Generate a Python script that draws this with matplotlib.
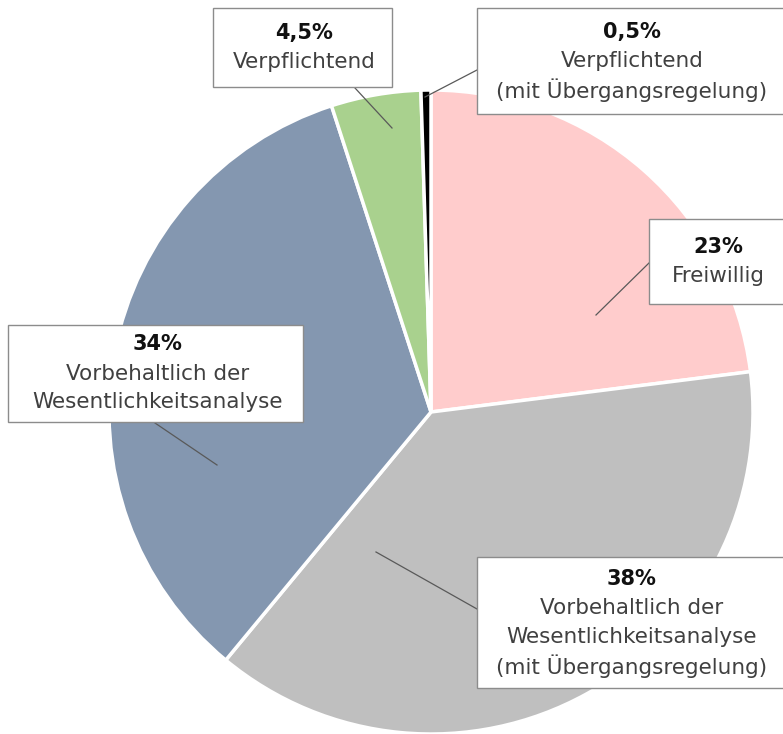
import matplotlib.pyplot as plt
from matplotlib.patches import Rectangle

plt.rcParams['font.family'] = ['DejaVu Sans']

# data
shares = [23, 38, 34, 4.5, 0.5]
pct_labels = ["23%", "38%", "34%", "4,5%", "0,5%"]
names = [
    "Freiwillig",
    "Vorbehaltlich der\nWesentlichkeitsanalyse\n(mit Übergangsregelung)",
    "Vorbehaltlich der\nWesentlichkeitsanalyse",
    "Verpflichtend",
    "Verpflichtend\n(mit Übergangsregelung)",
]
colors = ["#FFCCCC", "#BFBFBF", "#8497B0", "#A9D18E", "#000000"]

W, H = 783, 734

# label boxes (x0, y0, x1, y1 in pixels from top-left), leader line (start in pie, end at box)
boxes = [
    (649, 219, 790, 304),
    (477, 557, 790, 688),
    (8, 325, 303, 422),
    (213, 8, 392, 87),
    (477, 8, 790, 114),
]
leaders = [
    ((596, 315), (650, 262)),
    ((376, 552), (477, 609)),
    ((217, 465), (155, 423)),
    ((392, 128), (355, 88)),
    ((425, 97), (477, 70)),
]


def fy(y):
    return H - y


fig = plt.figure(figsize=(W / 100, H / 100), dpi=100)
ax = fig.add_axes([0, 0, 1, 1])

ax.pie(shares, colors=colors, startangle=90, counterclock=False,
       center=(431, fy(412)), radius=322,
       wedgeprops=dict(edgecolor="white", linewidth=2.5))

for (p0, p1) in leaders:
    ax.plot([p0[0], p1[0]], [fy(p0[1]), fy(p1[1])], color="#595959", lw=0.9, zorder=3)

for (x0, y0, x1, y1), pct, name in zip(boxes, pct_labels, names):
    ax.add_patch(Rectangle((x0, fy(y1)), x1 - x0, y1 - y0, facecolor="white",
                           edgecolor="#8c8c8c", lw=1, zorder=4))
    cx = (x0 + min(x1, W)) / 2 + 2
    nlines = 1 + name.count("\n") + 1
    top = (y0 + y1) / 2 - (nlines - 1) * 29 / 2
    ax.text(cx, fy(top), pct, ha="center", va="center", fontsize=15,
            fontweight="bold", color="#111111", zorder=5)
    for i, line in enumerate(name.split("\n")):
        ax.text(cx, fy(top + 29 * (i + 1)), line, ha="center", va="center",
                fontsize=15.5, color="#404040", zorder=5)

ax.set_xlim(0, W)
ax.set_ylim(0, H)
ax.set_aspect("auto")
ax.axis("off")

fig.savefig("out.png", dpi=100)
